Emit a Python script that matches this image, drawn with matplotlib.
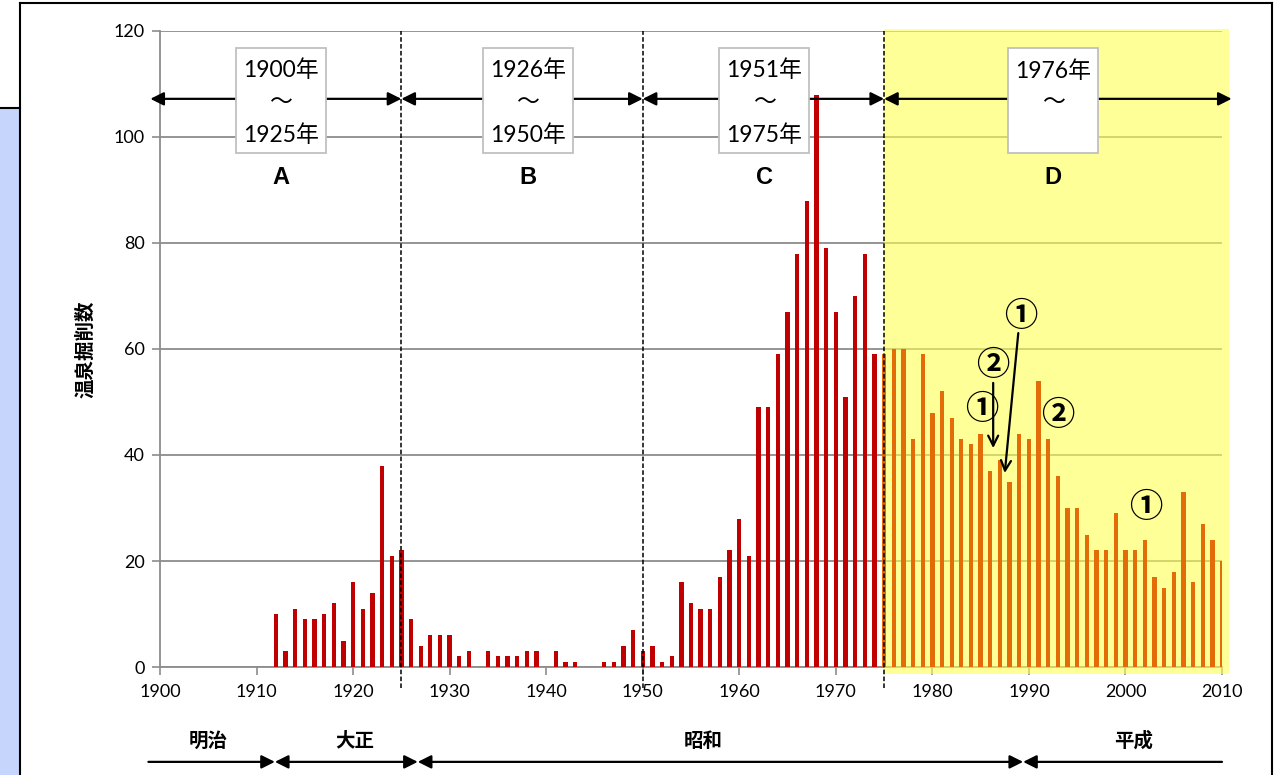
import matplotlib
matplotlib.use('Agg')
import matplotlib.pyplot as plt
from matplotlib.patches import Rectangle
from matplotlib.lines import Line2D

plt.rcParams['font.family'] = ['Lato', 'Noto Sans CJK JP', 'DejaVu Sans']

# データ
years = list(range(1912, 2011))
counts = [10, 3, 11, 9, 9, 10, 12, 5, 16, 11, 14, 38, 21, 22,        # 1912-1925
          9, 4, 6, 6, 6, 2, 3, 0, 3, 2, 2, 2, 3, 3, 0, 3, 1, 1, 0, 0,  # 1926-1945
          1, 1, 4, 7, 3,                                              # 1946-1950
          4, 1, 2, 16, 12, 11, 11, 17, 22, 28, 21, 49, 49, 59, 67,    # 1951-1965
          78, 88, 108, 79, 67, 51, 70, 78, 59, 59,                    # 1966-1975
          60, 60, 43, 59, 48, 52, 47, 43, 42, 44, 37, 39, 35, 44, 43, # 1976-1990
          54, 43, 36, 30, 30, 25, 22, 22, 29, 22, 22, 24, 17, 15, 18, # 1991-2005
          33, 16, 27, 24, 20]                                         # 2006-2010
period_text = ['1900年\n～\n1925年', '1926年\n～\n1950年', '1951年\n～\n1975年', '1976年\n～\n ']
period_name = ['A', 'B', 'C', 'D']
era_names = ['明治', '大正', '昭和', '平成']

fig = plt.figure(figsize=(12.81, 7.75), dpi=100)
ax = fig.add_axes([160 / 1281, 1 - 667 / 775, 1062 / 1281, 636 / 775])

# 外枠と左の青い帯
fig.add_artist(Rectangle((0, 0), 20 / 1281, 1 - 108 / 775, transform=fig.transFigure,
                         fc='#c5d5fb', ec='none'))
for xs, ys in [([0, 20], [108, 108]), ([20, 20], [3, 775]), ([20, 1272], [3, 3]), ([1272, 1272], [3, 775])]:
    fig.add_artist(Line2D([x / 1281 for x in xs], [1 - y / 775 for y in ys],
                          transform=fig.transFigure, color='k', lw=1.5))

gray = '#8c8c8c'
ax.set_xlim(1900, 2010)
ax.set_ylim(0, 120)
ax.set_xticks(range(1900, 2011, 10))
ax.set_yticks(range(0, 121, 20))
ax.grid(axis='y', color=gray, lw=1.3)
for s in ['top', 'right']:
    ax.spines[s].set_visible(False)
for s in ['left', 'bottom']:
    ax.spines[s].set_color(gray)
    ax.spines[s].set_linewidth(1.3)
ax.tick_params(colors=gray, labelcolor='black', labelsize=13, length=6, width=1.2)
ax.tick_params(axis='y', pad=5)
ax.tick_params(axis='x', pad=6)
ax.set_ylabel('温泉掘削数', fontsize=14, fontweight='bold', family=['Noto Sans CJK JP'])
ax.yaxis.set_label_coords(-0.061, 0.5)

# 1976年以降の黄色い背景
ax.add_patch(Rectangle((1975, -1.3), 35.7, 121.7, fc=(1, 1, 0.33), alpha=0.6, ec='none',
                       zorder=3, clip_on=False))

colors = ['#e36c09' if y >= 1975 else '#c00000' for y in years]
ax.bar(years, counts, width=0.45, color=colors, zorder=4)

# 区切りの点線
for x in [1925, 1950, 1975]:
    ax.plot([x, x], [-4, 120], color='k', lw=1.1, ls=(0, (3, 1.5)), clip_on=False, zorder=5)

# 期間の矢印
arrow_x = [1899, 1925, 1950, 1975, 2011]
for i in range(4):
    ax.annotate('', xy=(arrow_x[i + 1], 107.2), xytext=(arrow_x[i], 107.2),
                arrowprops=dict(arrowstyle='<|-|>', color='k', lw=1.6, mutation_scale=20,
                                shrinkA=0, shrinkB=0),
                annotation_clip=False, zorder=6)

box_x = [1912.5, 1938.1, 1962.6, 1992.5]
for i in range(4):
    ax.add_patch(Rectangle((box_x[i] - 4.65, 96.9), 9.3, 19.8, fc='white', ec='#c0c0c0',
                           lw=1.3, zorder=7, clip_on=False))
    ax.text(box_x[i], 106.5, period_text[i], ha='center', va='center', fontsize=16.5,
            linespacing=1.62, zorder=8)
    ax.text(box_x[i], 92.4, period_name[i], ha='center', va='center', fontsize=17,
            fontweight='bold', family=['Liberation Sans'], zorder=8)

# 丸数字と矢印
circ = dict(fontsize=24, fontweight='bold', ha='center', va='center', zorder=8,
            family=['Noto Sans CJK JP'])
ax.text(1989.2, 66.2, '①', **circ)
ax.text(1986.3, 56.8, '②', **circ)
ax.text(1985.1, 48.5, '①', **circ)
ax.text(1993.0, 47.4, '②', **circ)
ax.text(2002.1, 30.0, '①', **circ)
ax.annotate('', xy=(1986.3, 41.3), xytext=(1986.3, 53.6),
            arrowprops=dict(arrowstyle='->', color='k', lw=1.6, mutation_scale=18,
                            shrinkA=0, shrinkB=0), zorder=8)
ax.annotate('', xy=(1987.5, 36.6), xytext=(1988.9, 63.0),
            arrowprops=dict(arrowstyle='->', color='k', lw=1.6, mutation_scale=18,
                            shrinkA=0, shrinkB=0), zorder=8)

# 元号
era_x = [1905.0, 1920.2, 1956.3, 2000.8]
era_b = [1898.8, 1911.9, 1926.7, 1989.4, 2010]
styles = ['-|>', '<|-|>', '<|-|>', '<|-']
for i in range(4):
    ax.text(era_x[i], -14.0, era_names[i], ha='center', va='center', fontsize=14,
            fontweight='bold', family=['Noto Sans CJK JP'])
    ax.annotate('', xy=(era_b[i + 1], -17.9), xytext=(era_b[i], -17.9),
                arrowprops=dict(arrowstyle=styles[i], color='k', lw=1.6, mutation_scale=20,
                                shrinkA=0, shrinkB=0),
                annotation_clip=False)

fig.savefig('out.png', dpi=100)
